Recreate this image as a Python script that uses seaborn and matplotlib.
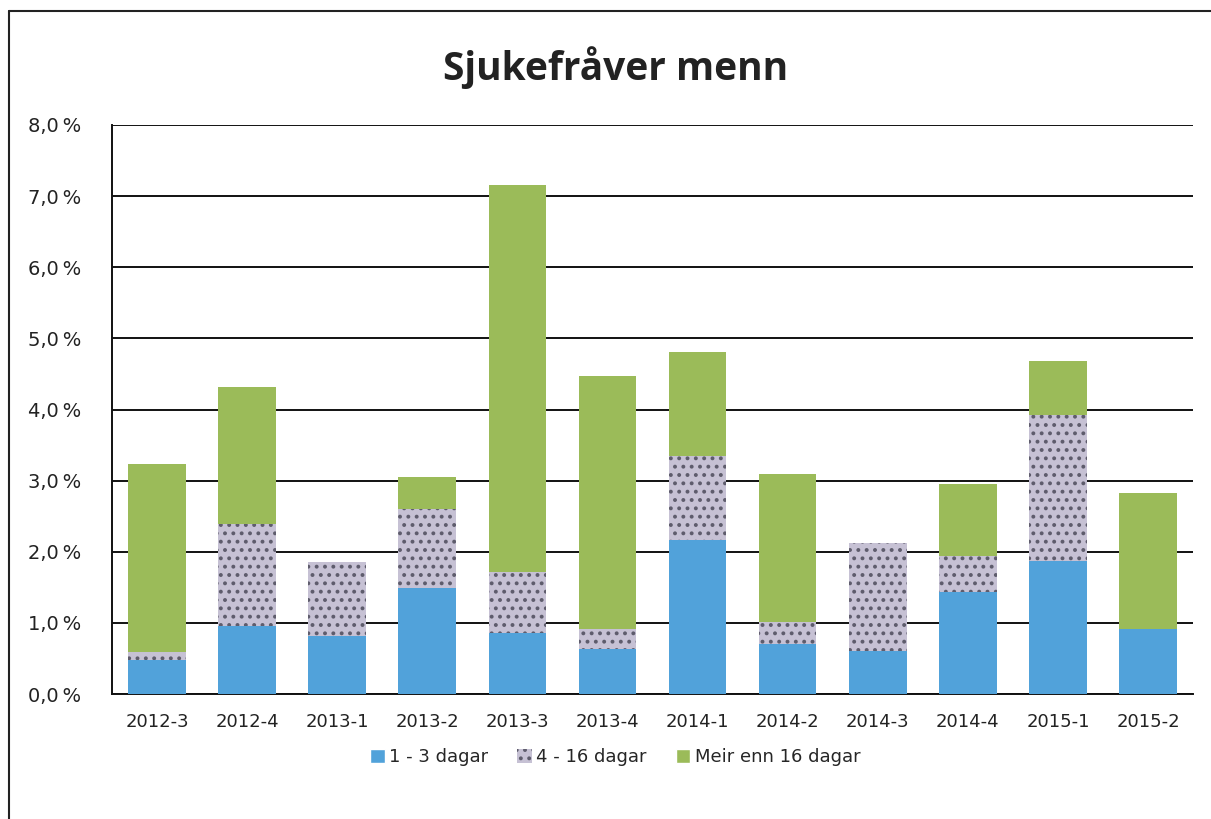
import numpy as np
import pandas as pd
import matplotlib.pyplot as plt
import seaborn as sns
from matplotlib.lines import Line2D
from matplotlib.patches import Patch
from matplotlib.ticker import FuncFormatter

# Data (percent)
periods = ['2012-3', '2012-4', '2013-1', '2013-2', '2013-3', '2013-4',
           '2014-1', '2014-2', '2014-3', '2014-4', '2015-1', '2015-2']
short_days = [0.48, 0.95, 0.81, 1.49, 0.86, 0.63, 2.17, 0.71, 0.60, 1.43, 1.87, 0.91]
mid_days = [0.11, 1.44, 1.05, 1.11, 0.86, 0.28, 1.18, 0.30, 1.52, 0.51, 2.05, 0.00]
long_days = [2.65, 1.92, 0.00, 0.45, 5.44, 3.56, 1.46, 2.09, 0.00, 1.01, 0.76, 1.92]
series_names = ['1 - 3 dagar', '4 - 16 dagar', 'Meir enn 16 dagar']
y_ticks = [0, 1, 2, 3, 4, 5, 6, 7, 8]

df = pd.DataFrame({'period': periods, 'short': short_days,
                   'mid': mid_days, 'long': long_days})
df['bottom_mid'] = df['short']
df['bottom_long'] = df['short'] + df['mid']

sns.set_style('white')
plt.rcParams['font.family'] = ['DejaVu Sans']
plt.rcParams['hatch.linewidth'] = 1.6

blue = '#51a2da'
granite = '#c6c1d4'
granite_hatch = '#5e5c6c'
green = '#9bbb59'

fig = plt.figure(figsize=(12.11, 8.19), dpi=100)
ax = fig.add_axes([112 / 1211, 1 - 694 / 819, (1193 - 112) / 1211, (694 - 125) / 819])

bar_w = 0.64
sns.barplot(data=df, x='period', y='short', color=blue, width=bar_w,
            saturation=1, ax=ax, zorder=3, linewidth=0)
sns.barplot(data=df, x='period', y='mid', bottom=df['bottom_mid'], color=granite,
            width=bar_w, saturation=1, ax=ax, zorder=3, linewidth=0,
            hatch='..', edgecolor=granite_hatch)
sns.barplot(data=df, x='period', y='long', bottom=df['bottom_long'], color=green,
            width=bar_w, saturation=1, ax=ax, zorder=3, linewidth=0)

ax.set_ylim(0, 8)
ax.set_xlim(-0.5, len(periods) - 0.5)
ax.set_yticks(y_ticks)
ax.yaxis.set_major_formatter(FuncFormatter(lambda v, p: f'{v:.1f}'.replace('.', ',') + '\u2009%'))
ax.grid(axis='y', color='#111111', linewidth=1.4, zorder=0)
ax.set_axisbelow(True)
ax.set_xlabel('')
ax.set_ylabel('')
for side in ['top', 'right']:
    ax.spines[side].set_visible(False)
ax.spines['left'].set_color('#111111')
ax.spines['left'].set_linewidth(1.4)
ax.spines['bottom'].set_color('#111111')
ax.spines['bottom'].set_linewidth(1.4)
ax.tick_params(axis='y', labelsize=14, length=0, pad=22, colors='#222222')
ax.tick_params(axis='x', labelsize=13, length=0, pad=14, colors='#222222')

fig.text(0.508, 1 - 68 / 819, 'Sjukefråver menn', ha='center', va='center',
         fontsize=28, fontweight='bold', family=['Open Sans', 'DejaVu Sans'], color='#222222')

handles = [Patch(facecolor=blue),
           Patch(facecolor=granite, hatch='..', edgecolor=granite_hatch, linewidth=0),
           Patch(facecolor=green)]
fig.legend(handles, series_names, loc='center', bbox_to_anchor=(0.508, 1 - 757 / 819),
           ncol=3, frameon=False, fontsize=13, handlelength=0.8, handleheight=0.8,
           handletextpad=0.25, columnspacing=1.6)

# outer chart frame
fig.add_artist(Line2D([9 / 1211, 9 / 1211], [0, 1 - 11 / 819], color='#222222', linewidth=1.5))
fig.add_artist(Line2D([9 / 1211, 1], [1 - 11 / 819, 1 - 11 / 819], color='#222222', linewidth=1.5))

fig.savefig('out.png', dpi=100)
